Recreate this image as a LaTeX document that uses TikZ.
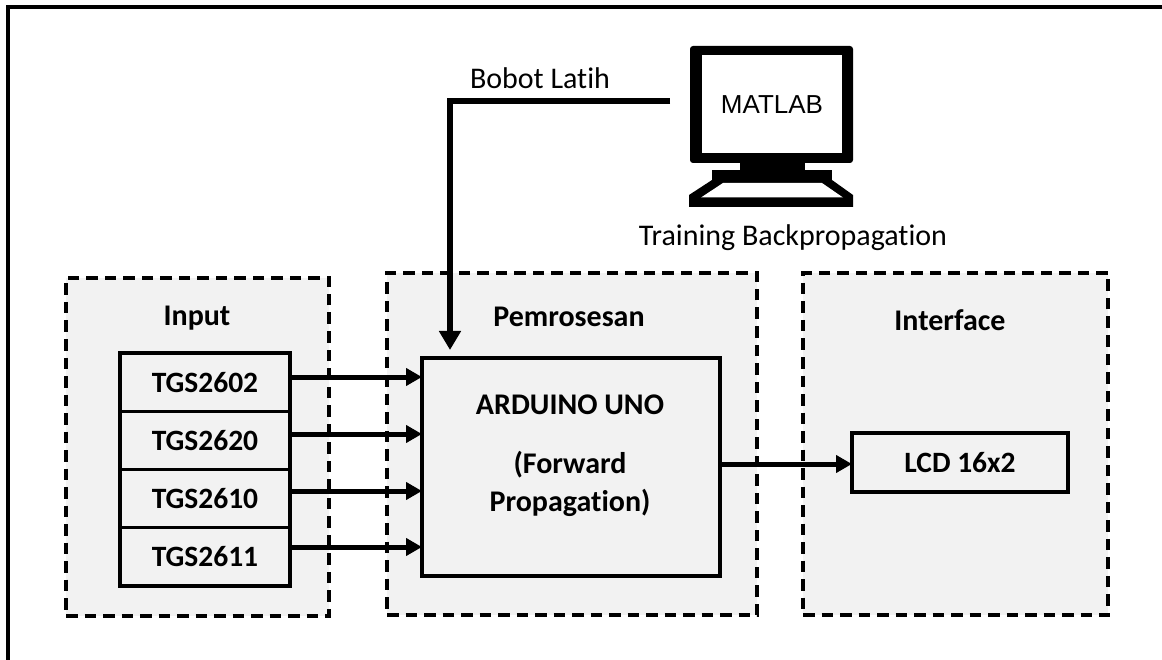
\documentclass[tikz,border=0pt]{standalone}
\usepackage{fontspec}
\setmainfont{Carlito}[Ligatures={NoCommon}]
\newfontfamily\arialf{Liberation Sans}
\usetikzlibrary{arrows.meta}
\definecolor{boxgrey}{HTML}{F2F2F2}
\begin{document}
\begin{tikzpicture}[x=1pt,y=-1pt,
  grp/.style={draw=black, line width=3.3pt, dash pattern=on 11.5pt off 7pt, fill=boxgrey, inner sep=0pt, outer sep=0pt},
  blk/.style={draw=black, line width=3.2pt, fill=boxgrey, inner sep=0pt, outer sep=0pt, font=\bfseries\fontsize{29.5}{34}\selectfont},
  lbl/.style={font=\bfseries\fontsize{30}{35}\selectfont, inner sep=0pt},
  plain/.style={font=\fontsize{30}{35}\selectfont, inner sep=0pt},
  conn/.style={line width=5pt, -{Triangle[length=16pt,width=17pt]}},
  feed/.style={line width=5.5pt, -{Triangle[length=19pt,width=21pt]}}]
\useasboundingbox (0,0) rectangle (1162,660);
\fill[white] (0,0) rectangle (1162,660);
% outer frame (only top and left visible)
\draw[line width=3.2pt] (1162,7) -- (8,7) -- (8,660);

% group boxes
\node[grp, minimum width=263pt, minimum height=338pt] (gin) at (197.5,447) {};
\node[grp, minimum width=370pt, minimum height=342pt] (gpr) at (572,444) {};
\node[grp, minimum width=305pt, minimum height=342pt] (gif) at (955.5,444) {};
\node[lbl] (lin) at (197,318) {Input};
\node[lbl] (lpr) at (569,317) {Pemrosesan};
\node[lbl] (lif) at (950,320) {Interface};

% sensors
\node[blk, minimum width=170pt, minimum height=58.25pt] (s1) at (205,382.1) {TGS2602};
\node[blk, minimum width=170pt, minimum height=58.25pt] (s2) at (205,440.4) {TGS2620};
\node[blk, minimum width=170pt, minimum height=58.25pt] (s3) at (205,498.6) {TGS2610};
\node[blk, minimum width=170pt, minimum height=58.25pt] (s4) at (205,556.9) {TGS2611};

% arduino
\node[blk, minimum width=298pt, minimum height=218pt] (ard) at (571,467) {};
\node[lbl] (ard1) at (570,405) {ARDUINO UNO};
\node[lbl] (ard2) at (570,465) {(Forward};
\node[lbl] (ard3) at (570,503) {Propagation)};

% LCD
\node[blk, minimum width=216pt, minimum height=59pt] (lcd) at (960,462.5) {LCD 16x2};

% monitor
\node[fill=black, rounded corners=3pt, minimum width=163pt, minimum height=117pt, inner sep=0pt] (screen) at (771.5,104.5) {};
\fill[white] (702,55) rectangle (842,153);
\fill[black] (740,160) rectangle (805,172);
\fill[black] (712,170) rectangle (832,181);
\fill[black] (712,180) -- (832,180) -- (853,195) -- (853,207) -- (689,207) -- (689,195) -- cycle;
\fill[white] (723,183) -- (822,183) -- (843,197.5) -- (701,197.5) -- cycle;
\node[font=\arialf\fontsize{26}{31}\selectfont, inner sep=0pt] (matlab) at (772,105) {MATLAB};
\node[plain] (train) at (793,238) {Training Backpropagation};
\node[plain] (bobot) at (540,78) {Bobot Latih};

% connectors
\coordinate (pcout) at (670,101);
\coordinate (bend) at (450,101);
\draw[feed, shorten >=8pt] (pcout) -- (bend) -- (bend |- ard.north);
\draw[conn] (s1.east |- 0,377) -- (ard.west |- 0,377);
\draw[conn] (s2.east |- 0,434) -- (ard.west |- 0,434);
\draw[conn] (s3.east |- 0,491) -- (ard.west |- 0,491);
\draw[conn] (s4.east |- 0,547) -- (ard.west |- 0,547);
\draw[conn] (ard.east |- 0,464) -- (lcd.west |- 0,464);
\end{tikzpicture}
\end{document}
